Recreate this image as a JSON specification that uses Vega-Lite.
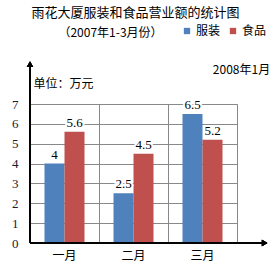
{
  "$schema": "https://vega.github.io/schema/vega-lite/v6.json",
  "width": 207,
  "height": 139,
  "autosize": {"type": "none"},
  "padding": {"left": 30, "top": 104, "right": 37, "bottom": 23},
  "background": "white",
  "config": {
    "view": {"stroke": "#888888", "strokeWidth": 1},
    "axis": {"titleFont": "Noto Sans CJK SC", "titleFontWeight": "normal", "titleColor": "black"},
    "axisY": {
      "values": [0, 1, 2, 3, 4, 5, 6, 7], "grid": true, "gridColor": "#888888", "domain": false, "ticks": false,
      "labelOverlap": false,
      "labelFont": "Liberation Serif", "labelFontSize": 13, "labelColor": "#1a1a2e", "labelPadding": 12,
      "titleFontSize": 12, "titleAngle": 0, "titleX": 3, "titleY": -21, "titleAlign": "left", "titleBaseline": "middle"
    }
  },
  "title": {
    "text": "雨花大厦服装和食品营业额的统计图",
    "font": "Noto Sans CJK SC",
    "fontSize": 13,
    "fontWeight": "normal",
    "color": "black",
    "anchor": "middle",
    "dx": 2,
    "dy": -1
  },
  "data": {"values": [
    {"month": "一月", "type": "服装", "value": 4},
    {"month": "一月", "type": "食品", "value": 5.6},
    {"month": "二月", "type": "服装", "value": 2.5},
    {"month": "二月", "type": "食品", "value": 4.5},
    {"month": "三月", "type": "服装", "value": 6.5},
    {"month": "三月", "type": "食品", "value": 5.2}
  ]},
  "layer": [
    {
      "encoding": {
        "x": {
          "field": "month", "type": "nominal", "sort": ["一月", "二月", "三月"],
          "scale": {"paddingInner": 0, "paddingOuter": 0},
          "axis": {
            "bandPosition": 0, "grid": true, "gridColor": "#888888", "domain": false, "ticks": false,
            "labelAngle": 0, "labelFont": "Noto Sans CJK SC", "labelFontSize": 12, "labelColor": "black", "labelPadding": 7,
            "title": "2008年1月", "titleFontSize": 12, "titleX": 211, "titleY": -174, "titleAlign": "center", "titleBaseline": "middle"
          }
        },
        "xOffset": {"field": "type", "type": "nominal", "sort": ["服装", "食品"], "scale": {"paddingInner": 0, "paddingOuter": 0.725}},
        "y": {
          "field": "value", "type": "quantitative",
          "scale": {"domain": [0, 7], "nice": false, "zero": true},
          "axis": {"title": "单位：万元", "values": [0, 1, 2, 3, 4, 5, 6, 7], "labelOverlap": false}
        }
      },
      "layer": [
        {
          "mark": {"type": "bar"},
          "encoding": {
            "color": {
              "field": "type", "type": "nominal", "sort": ["服装", "食品"],
              "scale": {"domain": ["服装", "食品"], "range": ["#4F81BD", "#C0504D"]},
              "legend": {
                "orient": "none", "direction": "horizontal", "legendX": 151, "legendY": -79, "title": null,
                "symbolType": "square", "symbolSize": 40, "symbolStrokeWidth": 0,
                "labelFont": "Noto Sans CJK SC", "labelFontSize": 12, "labelColor": "black", "labelOffset": 3, "columnPadding": 6
              }
            }
          }
        },
        {
          "mark": {"type": "text", "baseline": "bottom", "dy": -2, "font": "Liberation Serif", "fontSize": 13, "fill": "white", "stroke": "white", "strokeWidth": 4},
          "encoding": {"text": {"field": "value", "type": "quantitative"}}
        },
        {
          "mark": {"type": "text", "baseline": "bottom", "dy": -2, "font": "Liberation Serif", "fontSize": 13, "fill": "black"},
          "encoding": {"text": {"field": "value", "type": "quantitative"}}
        }
      ]
    },
    {
      "layer": [
        {
          "mark": {"type": "rule", "color": "black", "strokeWidth": 1},
          "encoding": {
            "x": {"datum": 0, "type": "quantitative", "scale": {"domain": [0, 3], "nice": false, "zero": false},
              "axis": {"orient": "top", "domain": false, "ticks": false, "labels": false, "grid": false,
                "title": "（2007年1-3月份）", "titleFontSize": 12, "titleX": 80, "titleY": -72, "titleAlign": "center", "titleBaseline": "middle"}},
            "y": {"datum": 0, "type": "quantitative", "axis": {"title": "单位：万元", "values": [0, 1, 2, 3, 4, 5, 6, 7], "labelOverlap": false}},
            "y2": {"datum": 9}
          }
        },
        {
          "mark": {"type": "rule", "color": "black", "strokeWidth": 1},
          "encoding": {
            "x": {"datum": 0, "type": "quantitative"},
            "x2": {"datum": 3.4},
            "y": {"datum": 0, "type": "quantitative", "axis": {"title": "单位：万元", "values": [0, 1, 2, 3, 4, 5, 6, 7], "labelOverlap": false}}
          }
        },
        {
          "mark": {"type": "point", "shape": "triangle-up", "filled": true, "color": "black", "size": 40, "opacity": 1},
          "encoding": {
            "x": {"datum": 0, "type": "quantitative"},
            "y": {"datum": 9, "type": "quantitative", "axis": {"title": "单位：万元", "values": [0, 1, 2, 3, 4, 5, 6, 7], "labelOverlap": false}}
          }
        },
        {
          "mark": {"type": "point", "shape": "triangle-right", "filled": true, "color": "black", "size": 40, "opacity": 1},
          "encoding": {
            "x": {"datum": 3.4, "type": "quantitative"},
            "y": {"datum": 0, "type": "quantitative", "axis": {"title": "单位：万元", "values": [0, 1, 2, 3, 4, 5, 6, 7], "labelOverlap": false}}
          }
        }
      ]
    }
  ],
  "resolve": {"scale": {"x": "independent"}}
}
